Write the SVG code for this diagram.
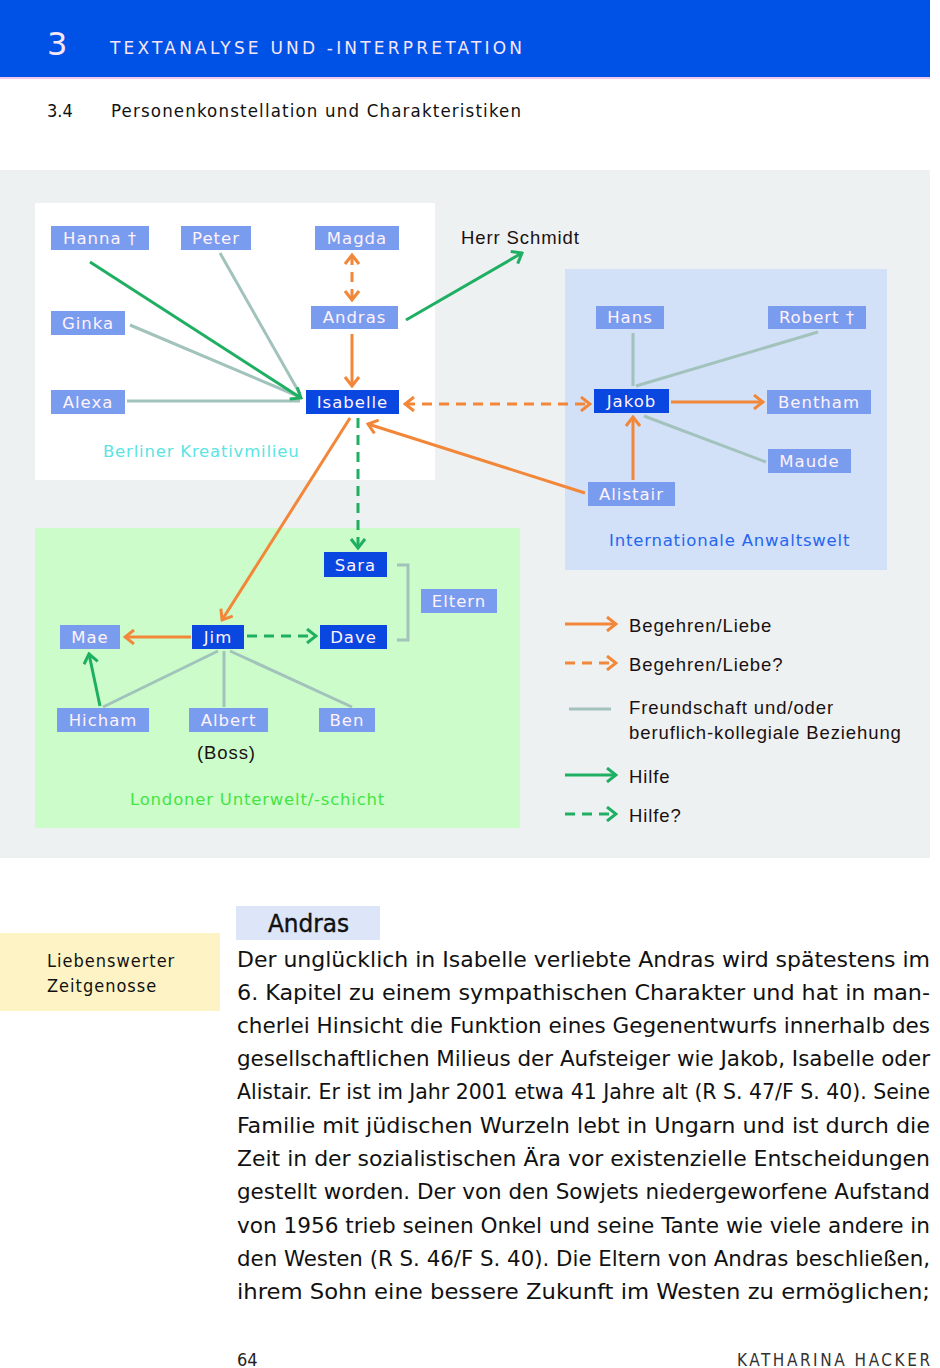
<svg xmlns="http://www.w3.org/2000/svg" width="940" height="1368" viewBox="0 0 940 1368">
<defs>
<style>
.n{fill:#7a9cee}
.d{fill:#0a46e0}
.nt{font-family:"DejaVu Sans",sans-serif;font-size:16.5px;fill:#fff2fb;letter-spacing:1px;text-anchor:middle}
.or{stroke:#f2873a;stroke-width:3;fill:none}
.gr{stroke:#1faf62;stroke-width:3;fill:none}
.fr{stroke:#a2c2bc;stroke-width:3;fill:none}
.dash{stroke-dasharray:10,7}
.lg{font-family:"Liberation Sans",Arial,sans-serif;font-size:18.5px;letter-spacing:0.9px;fill:#1a1010}
.grp{font-family:"DejaVu Sans",sans-serif;font-size:16.5px;letter-spacing:0.8px}
.body{font-family:"Liberation Sans Narrow","DejaVu Sans Condensed","Liberation Sans",sans-serif;font-size:22px;fill:#111}
</style>
<marker id="ao" viewBox="0 0 12 16" refX="10" refY="8" markerWidth="12" markerHeight="16" markerUnits="userSpaceOnUse" orient="auto-start-reverse"><path d="M1,1 L10,8 L1,15" fill="none" stroke="#f2873a" stroke-width="3"/></marker>
<marker id="ag" viewBox="0 0 12 16" refX="10" refY="8" markerWidth="12" markerHeight="16" markerUnits="userSpaceOnUse" orient="auto-start-reverse"><path d="M1,1 L10,8 L1,15" fill="none" stroke="#1faf62" stroke-width="3"/></marker>
</defs>
<rect width="940" height="1368" fill="#fff"/>
<g id="header">
<rect x="0" y="0" width="930" height="78" fill="#0052e6"/>
<rect x="0" y="77" width="930" height="2" fill="#f3c6ee"/>
<text x="47" y="55" font-family="DejaVu Sans,sans-serif" font-size="32" fill="#f4e6f8">3</text>
<text x="110" y="54" font-family="DejaVu Sans,sans-serif" font-size="17" textLength="412" lengthAdjust="spacing" fill="#f4e6f8">TEXTANALYSE UND -INTERPRETATION</text>
<text x="47" y="117" font-family="DejaVu Sans Condensed,DejaVu Sans,sans-serif" font-size="18" fill="#111">3.4</text>
<text x="111" y="117" font-family="DejaVu Sans Condensed,DejaVu Sans,sans-serif" font-size="18.5" textLength="410" lengthAdjust="spacing" fill="#111">Personenkonstellation und Charakteristiken</text>
</g>
<g id="areas">
<rect x="0" y="170" width="930" height="688" fill="#eef1f2"/>
<rect x="35" y="203" width="400" height="277" fill="#ffffff"/>
<rect x="565" y="269" width="322" height="301" fill="#d2e0f8"/>
<rect x="35" y="528" width="485" height="300" fill="#ccfcca"/>
<text class="grp" x="103" y="457" fill="#5ae4e4">Berliner Kreativmilieu</text>
<text class="grp" x="609" y="546" fill="#2566f0">Internationale Anwaltswelt</text>
<text class="grp" x="130" y="805" fill="#44e444" letter-spacing="0.9">Londoner Unterwelt/-schicht</text>
<text class="lg" x="461" y="244">Herr Schmidt</text>
<text class="lg" x="197" y="759" letter-spacing="0">(Boss)</text>
</g>
<g id="connectors">
<line class="fr" x1="220" y1="253" x2="300" y2="394"/>
<line class="fr" x1="130" y1="325" x2="300" y2="397"/>
<line class="fr" x1="127" y1="401" x2="300" y2="401"/>
<line class="gr" x1="90" y1="262" x2="301" y2="398" marker-end="url(#ag)"/>
<line class="or dash" x1="352" y1="255" x2="352" y2="300" marker-start="url(#ao)" marker-end="url(#ao)"/>
<line class="or" x1="352" y1="334" x2="352" y2="386" marker-end="url(#ao)"/>
<line class="gr" x1="406" y1="320" x2="522" y2="253" marker-end="url(#ag)"/>
<line class="or dash" x1="405" y1="404" x2="590" y2="404" marker-start="url(#ao)" marker-end="url(#ao)"/>
<line class="or" x1="585" y1="493" x2="368" y2="424" marker-end="url(#ao)"/>
<line class="gr dash" x1="358" y1="418" x2="358" y2="548" marker-end="url(#ag)"/>
<line class="or" x1="350" y1="418" x2="222" y2="620" marker-end="url(#ao)"/>
<line class="or" x1="191" y1="637" x2="125" y2="637" marker-end="url(#ao)"/>
<line class="gr dash" x1="247" y1="636" x2="316" y2="636" marker-end="url(#ag)"/>
<line class="gr" x1="100" y1="706" x2="89" y2="654" marker-end="url(#ag)"/>
<line class="fr" x1="218" y1="651" x2="103" y2="707"/>
<line class="fr" x1="224" y1="651" x2="224" y2="707"/>
<line class="fr" x1="230" y1="651" x2="352" y2="707"/>
<polyline class="fr" points="397,565 408,565 408,640 397,640"/>
<line class="fr" x1="633" y1="333" x2="633" y2="386"/>
<line class="fr" x1="818" y1="332" x2="636" y2="386"/>
<line class="or" x1="671" y1="402" x2="763" y2="402" marker-end="url(#ao)"/>
<line class="or" x1="633" y1="480" x2="633" y2="417" marker-end="url(#ao)"/>
<line class="fr" x1="644" y1="416" x2="766" y2="462"/>
</g>
<g id="n-hanna"><rect class="n" x="51" y="226" width="98" height="24"/><text class="nt" x="100" y="244">Hanna †</text></g>
<g id="n-peter"><rect class="n" x="181" y="226" width="70" height="24"/><text class="nt" x="216" y="244">Peter</text></g>
<g id="n-magda"><rect class="n" x="315" y="226" width="84" height="24"/><text class="nt" x="357" y="244">Magda</text></g>
<g id="n-ginka"><rect class="n" x="51" y="311" width="74" height="24"/><text class="nt" x="88" y="329">Ginka</text></g>
<g id="n-andras"><rect class="n" x="311" y="306" width="87" height="23"/><text class="nt" x="354.5" y="323">Andras</text></g>
<g id="n-alexa"><rect class="n" x="51" y="390" width="74" height="24"/><text class="nt" x="88" y="408">Alexa</text></g>
<g id="n-isabelle"><rect class="d" x="306" y="390" width="93" height="24"/><text class="nt" x="352.5" y="408">Isabelle</text></g>
<g id="n-hans"><rect class="n" x="596" y="306" width="68" height="23"/><text class="nt" x="630" y="323">Hans</text></g>
<g id="n-robert"><rect class="n" x="768" y="306" width="98" height="23"/><text class="nt" x="817" y="323">Robert †</text></g>
<g id="n-jakob"><rect class="d" x="594" y="389" width="75" height="24"/><text class="nt" x="631.5" y="407">Jakob</text></g>
<g id="n-bentham"><rect class="n" x="767" y="390" width="104" height="24"/><text class="nt" x="819" y="408">Bentham</text></g>
<g id="n-maude"><rect class="n" x="768" y="449" width="83" height="24"/><text class="nt" x="809.5" y="467">Maude</text></g>
<g id="n-alistair"><rect class="n" x="588" y="482" width="87" height="24"/><text class="nt" x="631.5" y="500">Alistair</text></g>
<g id="n-sara"><rect class="d" x="324" y="552" width="63" height="25"/><text class="nt" x="355.5" y="571">Sara</text></g>
<g id="n-eltern"><rect class="n" x="421" y="589" width="76" height="24"/><text class="nt" x="459" y="607">Eltern</text></g>
<g id="n-mae"><rect class="n" x="60" y="625" width="60" height="24"/><text class="nt" x="90" y="643">Mae</text></g>
<g id="n-jim"><rect class="d" x="192" y="625" width="52" height="24"/><text class="nt" x="218" y="643">Jim</text></g>
<g id="n-dave"><rect class="d" x="320" y="625" width="67" height="24"/><text class="nt" x="353.5" y="643">Dave</text></g>
<g id="n-hicham"><rect class="n" x="57" y="708" width="92" height="24"/><text class="nt" x="103" y="726">Hicham</text></g>
<g id="n-albert"><rect class="n" x="189" y="708" width="79" height="24"/><text class="nt" x="228.5" y="726">Albert</text></g>
<g id="n-ben"><rect class="n" x="319" y="708" width="56" height="24"/><text class="nt" x="347" y="726">Ben</text></g>
<g id="legend">
<line class="or" x1="565" y1="624" x2="616" y2="624" marker-end="url(#ao)"/>
<line class="or dash" x1="565" y1="663" x2="616" y2="663" marker-end="url(#ao)"/>
<line class="fr" x1="569" y1="709" x2="611" y2="709" stroke-width="2"/>
<line class="gr" x1="565" y1="775" x2="616" y2="775" marker-end="url(#ag)"/>
<line class="gr dash" x1="565" y1="814" x2="616" y2="814" marker-end="url(#ag)"/>
<text class="lg" x="629" y="632">Begehren/Liebe</text>
<text class="lg" x="629" y="671">Begehren/Liebe?</text>
<text class="lg" x="629" y="714">Freundschaft und/oder</text>
<text class="lg" x="629" y="739">beruflich-kollegiale Beziehung</text>
<text class="lg" x="629" y="783">Hilfe</text>
<text class="lg" x="629" y="822">Hilfe?</text>
</g>
<g id="margin-note">
<rect x="0" y="933" width="220" height="78" fill="#fdf3c4"/>
<text x="47" y="967" font-family="Liberation Sans Narrow,DejaVu Sans Condensed,sans-serif" font-size="18" letter-spacing="1" fill="#111">Liebenswerter</text>
<text x="47" y="992" font-family="Liberation Sans Narrow,DejaVu Sans Condensed,sans-serif" font-size="18" letter-spacing="1" fill="#111">Zeitgenosse</text>
</g>
<g id="heading">
<rect x="236" y="906" width="144" height="34" fill="#dde6f8"/>
<text x="268" y="932" font-family="Liberation Sans Narrow,DejaVu Sans Condensed,sans-serif" font-size="25" textLength="81" lengthAdjust="spacingAndGlyphs" fill="#111" stroke="#111" stroke-width="0.4">Andras</text>
</g>
<g id="body" class="body">
<text x="237" y="967" textLength="693" lengthAdjust="spacingAndGlyphs">Der unglücklich in Isabelle verliebte Andras wird spätestens im</text>
<text x="237" y="1000" textLength="693" lengthAdjust="spacingAndGlyphs">6. Kapitel zu einem sympathischen Charakter und hat in man-</text>
<text x="237" y="1033" textLength="693" lengthAdjust="spacingAndGlyphs">cherlei Hinsicht die Funktion eines Gegenentwurfs innerhalb des</text>
<text x="237" y="1066" textLength="693" lengthAdjust="spacingAndGlyphs">gesellschaftlichen Milieus der Aufsteiger wie Jakob, Isabelle oder</text>
<text x="237" y="1099" textLength="693" lengthAdjust="spacingAndGlyphs">Alistair. Er ist im Jahr 2001 etwa 41 Jahre alt (R S. 47/F S. 40). Seine</text>
<text x="237" y="1133" textLength="693" lengthAdjust="spacingAndGlyphs">Familie mit jüdischen Wurzeln lebt in Ungarn und ist durch die</text>
<text x="237" y="1166" textLength="693" lengthAdjust="spacingAndGlyphs">Zeit in der sozialistischen Ära vor existenzielle Entscheidungen</text>
<text x="237" y="1199" textLength="693" lengthAdjust="spacingAndGlyphs">gestellt worden. Der von den Sowjets niedergeworfene Aufstand</text>
<text x="237" y="1233" textLength="693" lengthAdjust="spacingAndGlyphs">von 1956 trieb seinen Onkel und seine Tante wie viele andere in</text>
<text x="237" y="1266" textLength="693" lengthAdjust="spacingAndGlyphs">den Westen (R S. 46/F S. 40). Die Eltern von Andras beschließen,</text>
<text x="237" y="1299" textLength="693" lengthAdjust="spacingAndGlyphs">ihrem Sohn eine bessere Zukunft im Westen zu ermöglichen;</text>
</g>
<g id="footer">
<text x="237" y="1366" font-family="Liberation Sans Narrow,DejaVu Sans Condensed,sans-serif" font-size="18" fill="#222">64</text>
<text x="930" y="1366" font-family="Liberation Sans Narrow,DejaVu Sans Condensed,sans-serif" font-size="17" textLength="193" lengthAdjust="spacing" text-anchor="end" fill="#333">KATHARINA HACKER</text>
</g>
</svg>
